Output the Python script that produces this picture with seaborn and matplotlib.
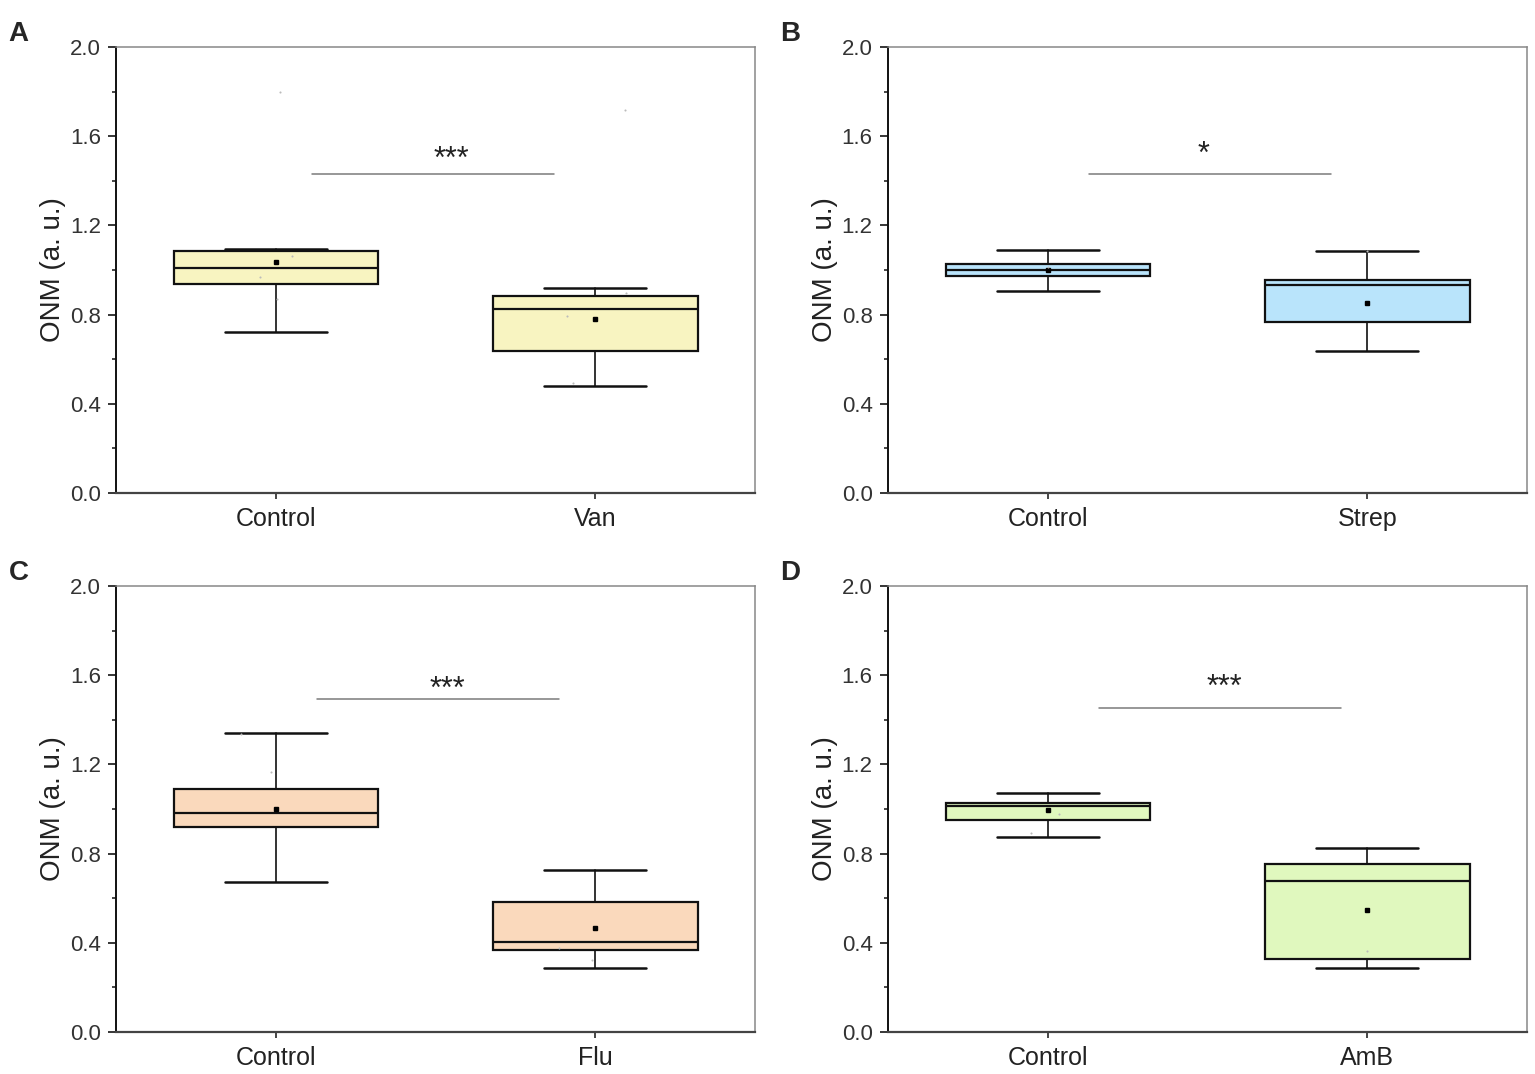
import numpy as np
import matplotlib
matplotlib.use("Agg")
import matplotlib.pyplot as plt
import seaborn as sns
from matplotlib.ticker import MultipleLocator

# -------------------
# Data
# -------------------
panel_labels = ["A", "B", "C", "D"]
treatments = ["Van", "Strep", "Flu", "AmB"]
box_colors = ["#f8f4c1", "#b9e4fb", "#fad9bc", "#e0f8be"]

ctrl_whislo = [0.723, 0.907, 0.671, 0.875]
ctrl_q1 = [0.937, 0.974, 0.918, 0.952]
ctrl_med = [1.007, 0.999, 0.982, 1.013]
ctrl_q3 = [1.086, 1.028, 1.090, 1.028]
ctrl_whishi = [1.095, 1.090, 1.339, 1.070]
ctrl_mean = [1.037, 1.002, 0.999, 0.997]

trt_whislo = [0.480, 0.637, 0.286, 0.289]
trt_q1 = [0.638, 0.768, 0.368, 0.326]
trt_med = [0.823, 0.931, 0.404, 0.677]
trt_q3 = [0.884, 0.956, 0.581, 0.755]
trt_whishi = [0.920, 1.087, 0.726, 0.825]
trt_mean = [0.780, 0.852, 0.466, 0.549]

# faint raw points
ctrl_points = [[1.797, 1.062, 0.968, 0.871], [1.013], [1.335, 1.166], [0.978, 0.892]]
trt_points = [[1.715, 0.895, 0.795, 0.492], [1.087], [0.378, 0.321], [0.361]]

# significance bars
sig_text = ["***", "*", "***", "***"]
sig_y = [1.432, 1.432, 1.493, 1.451]
sig_x0 = [0.114, 0.128, 0.129, 0.159]
sig_x1 = [0.872, 0.886, 0.886, 0.917]
sig_tx = [0.549, 0.488, 0.536, 0.553]
sig_ty = [1.456, 1.481, 1.499, 1.505]

sns.set_style("ticks")
plt.rcParams['font.family'] = ['Liberation Sans', 'DejaVu Sans']
np.random.seed(3)

fig = plt.figure(figsize=(15.35, 10.74), dpi=100)
positions = [(0.0756, 0.5410), (0.5785, 0.5410), (0.0756, 0.0391), (0.5785, 0.0391)]
w, h = 0.4163, 0.4153

for i in range(4):
    ax = fig.add_axes([positions[i][0], positions[i][1], w, h])
    stats = [
        dict(label="Control", whislo=ctrl_whislo[i], q1=ctrl_q1[i], med=ctrl_med[i],
             q3=ctrl_q3[i], whishi=ctrl_whishi[i], mean=ctrl_mean[i], fliers=[]),
        dict(label=treatments[i], whislo=trt_whislo[i], q1=trt_q1[i], med=trt_med[i],
             q3=trt_q3[i], whishi=trt_whishi[i], mean=trt_mean[i], fliers=[]),
    ]
    ax.bxp(stats, positions=[0, 1], widths=0.64, capwidths=0.32, patch_artist=True,
           showmeans=True, showfliers=False,
           boxprops=dict(facecolor=box_colors[i], edgecolor="#111111", linewidth=1.6),
           medianprops=dict(color="#111111", linewidth=1.6),
           whiskerprops=dict(color="#111111", linewidth=1.2),
           capprops=dict(color="#111111", linewidth=1.8),
           meanprops=dict(marker="s", markersize=2.2, markerfacecolor="black",
                          markeredgecolor="black"))

    # faint raw data points
    xs = [0] * len(ctrl_points[i]) + [1] * len(trt_points[i])
    ys = ctrl_points[i] + trt_points[i]
    sns.stripplot(x=xs, y=ys, native_scale=True, jitter=0.12, size=1.5,
                  color="#bbbbbb", ax=ax, zorder=5)

    ax.plot([sig_x0[i], sig_x1[i]], [sig_y[i], sig_y[i]], color="#7a7a7a", lw=1.1)
    ax.text(sig_tx[i], sig_ty[i], sig_text[i], ha="center", va="baseline",
            fontsize=22, color="#222222")

    ax.set_xlim(-0.5, 1.5)
    ax.set_ylim(0, 2.0)
    ax.set_xticks([0, 1])
    ax.set_xticklabels(["Control", treatments[i]])
    ax.yaxis.set_major_locator(MultipleLocator(0.4))
    ax.yaxis.set_minor_locator(MultipleLocator(0.2))
    ax.set_yticklabels([f"{v:.1f}" for v in ax.get_yticks()])
    ax.tick_params(axis="y", which="major", length=6, width=1.3, labelsize=16,
                   labelcolor="#333333", pad=5)
    ax.tick_params(axis="y", which="minor", length=3, width=1.2)
    ax.tick_params(axis="x", length=4, width=1.2, labelsize=18,
                   labelcolor="#222222", pad=6)
    ax.set_ylabel("ONM (a. u.)", fontsize=20, color="#222222", labelpad=3)
    ax.set_xlabel("")

    ax.spines["left"].set_color("#111111")
    ax.spines["left"].set_linewidth(1.4)
    ax.spines["bottom"].set_color("#444444")
    ax.spines["bottom"].set_linewidth(1.6)
    for side in ["top", "right"]:
        ax.spines[side].set_visible(True)
        ax.spines[side].set_color("#888888")
        ax.spines[side].set_linewidth(1.1)

    fig.text(positions[i][0] - 0.07, positions[i][1] + h + 0.012, panel_labels[i],
             fontsize=20, fontweight="bold", ha="left", va="center")

fig.savefig("out.png", dpi=100)
